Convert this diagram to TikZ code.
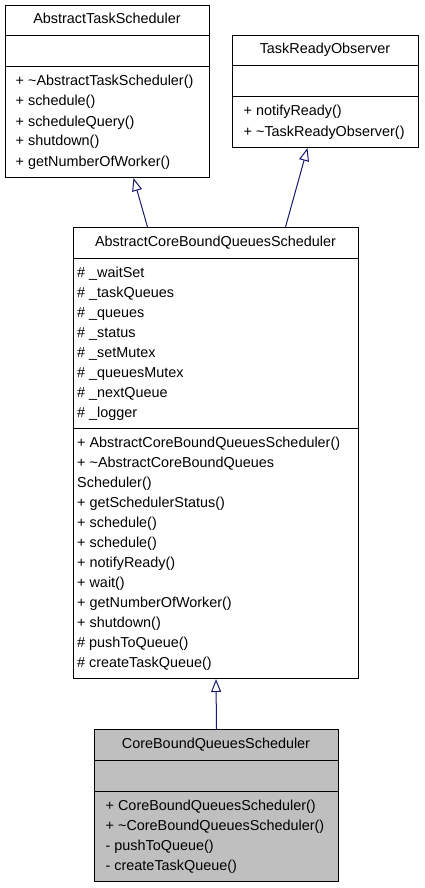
\documentclass[tikz,border=0pt]{standalone}
\usepackage{fontspec}
\setmainfont{Liberation Sans}
\usetikzlibrary{arrows.meta}
\definecolor{edgeblue}{HTML}{191970}
\definecolor{boxgray}{HTML}{BFBFBF}
\begin{document}
\begin{tikzpicture}[x=1pt,y=-1pt,
  classbox/.style={draw=black, line width=1pt, rectangle, inner sep=0pt, anchor=north west, fill=white},
  txt/.style={anchor=base west, inner sep=0pt, font=\fontsize{14.4}{20}\selectfont},
  ttl/.style={anchor=base, inner sep=0pt, font=\fontsize{14.4}{20}\selectfont},
  sepline/.style={draw=black, line width=1pt},
  inherit/.style={draw=edgeblue, line width=1pt, -{Triangle[open,length=13pt,width=10pt]}}]
\useasboundingbox (0,0) rectangle (424,888);

% AbstractTaskScheduler
\node[classbox, minimum width=204pt, minimum height=172pt] (ats) at (5,5) {};
\draw[sepline] ([yshift=-31pt]ats.north west) -- ([yshift=-31pt]ats.north east);
\draw[sepline] ([yshift=-62pt]ats.north west) -- ([yshift=-62pt]ats.north east);
\node[ttl] (atsT) at (107,24) {AbstractTaskScheduler};
\foreach \t [count=\i] in {{+ \textasciitilde AbstractTaskScheduler()},{+ schedule()},{+ scheduleQuery()},{+ shutdown()},{+ getNumberOfWorker()}}
  \node[txt] (atsM\i) at (15.5,66+20*\i) {\t};

% TaskReadyObserver
\node[classbox, minimum width=186pt, minimum height=112pt] (tro) at (232,35) {};
\draw[sepline] ([yshift=-31pt]tro.north west) -- ([yshift=-31pt]tro.north east);
\draw[sepline] ([yshift=-62pt]tro.north west) -- ([yshift=-62pt]tro.north east);
\node[ttl] (troT) at (325,54) {TaskReadyObserver};
\foreach \t [count=\i] in {{+ notifyReady()},{+ \textasciitilde TaskReadyObserver()}}
  \node[txt] (troM\i) at (243.5,96+20*\i) {\t};

% AbstractCoreBoundQueuesScheduler
\node[classbox, minimum width=285pt, minimum height=451pt] (acb) at (73,227) {};
\draw[sepline] ([yshift=-31pt]acb.north west) -- ([yshift=-31pt]acb.north east);
\draw[sepline] ([yshift=-201pt]acb.north west) -- ([yshift=-201pt]acb.north east);
\node[ttl] (acbT) at (215.5,246) {AbstractCoreBoundQueuesScheduler};
\foreach \t [count=\i] in {{\# \_waitSet},{\# \_taskQueues},{\# \_queues},{\# \_status},{\# \_setMutex},{\# \_queuesMutex},{\# \_nextQueue},{\# \_logger}}
  \node[txt] (acbA\i) at (77,257+20*\i) {\t};
\foreach \t [count=\i] in {{+ AbstractCoreBoundQueuesScheduler()},{+ \textasciitilde AbstractCoreBoundQueues},{Scheduler()},{+ getSchedulerStatus()},{+ schedule()},{+ schedule()},{+ notifyReady()},{+ wait()},{+ getNumberOfWorker()},{+ shutdown()},{\# pushToQueue()},{\# createTaskQueue()}}
  \node[txt] (acbM\i) at (77,427+20*\i) {\t};

% CoreBoundQueuesScheduler
\node[classbox, fill=boxgray, minimum width=244pt, minimum height=152pt] (cbq) at (94,729) {};
\draw[sepline] ([yshift=-31pt]cbq.north west) -- ([yshift=-31pt]cbq.north east);
\draw[sepline] ([yshift=-62pt]cbq.north west) -- ([yshift=-62pt]cbq.north east);
\node[ttl] (cbqT) at (216,748) {CoreBoundQueuesScheduler};
\foreach \t [count=\i] in {{+ CoreBoundQueuesScheduler()},{+ \textasciitilde CoreBoundQueuesScheduler()},{- pushToQueue()},{- createTaskQueue()}}
  \node[txt] (cbqM\i) at (105.5,790+20*\i) {\t};

% inheritance connectors
\draw[inherit] ([xshift=-68.5pt]acb.north) -- ([xshift=26pt]ats.south);
\draw[inherit] ([xshift=69.5pt]acb.north) -- ([xshift=-18pt]tro.south);
\draw[inherit] (cbq.north) -- (acb.south);
\end{tikzpicture}
\end{document}
